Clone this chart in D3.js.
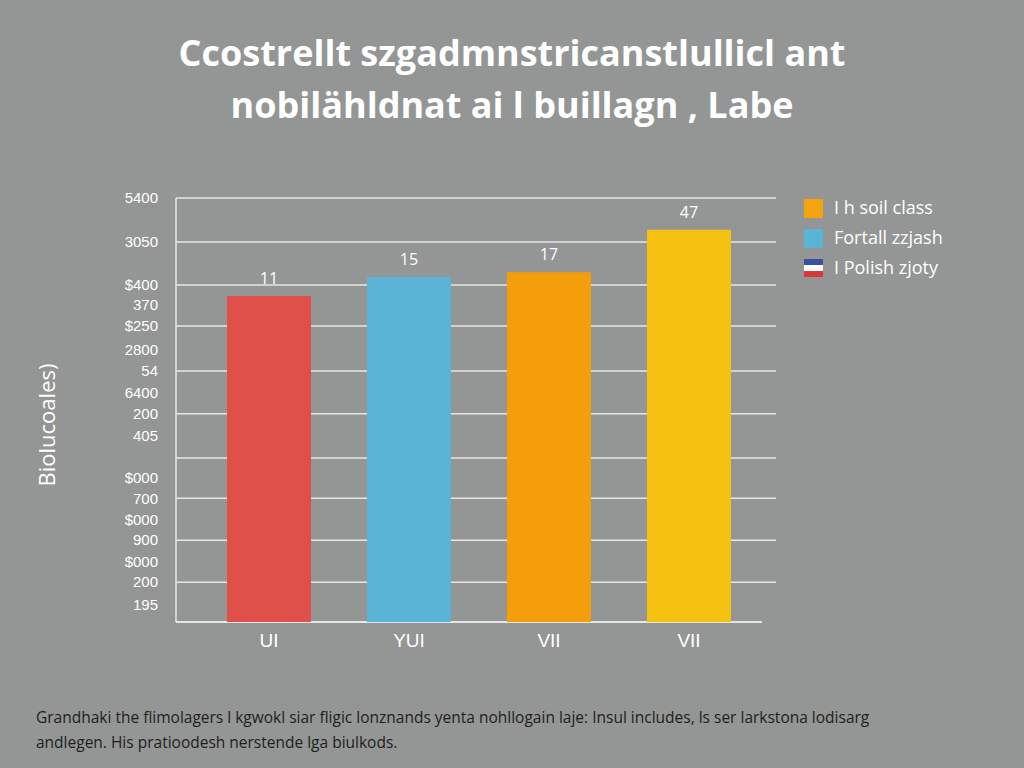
<!DOCTYPE html>
<html><head><meta charset="utf-8">
<script src="https://d3js.org/d3.v7.min.js"></script>
<style>body{margin:0;background:#939694;}svg{display:block;font-family:"Open Sans",sans-serif;}</style>
</head><body><svg id="c" width="1024" height="768"></svg>
<script>
const categories = ["UI","YUI","VII","VII "];
const barHeights = [76.9, 81.4, 82.5, 92.5];
const barLabels = ["11","15","17","47"];
const barColors = ["#e0504b","#5ab4d6","#f49e0c","#f5c211"];
const tickValues = [100,89.6,79.5,74.8,69.8,64.2,59.2,54.0,49.1,43.9,34.0,29.2,24.1,19.3,14.2,9.4,4.2];
const tickLabels = ["5400","3050","$400","370","$250","2800","54","6400","200","405","$000","700","$000","900","$000","200","195"];
const gridValues = [100,89.6,79.5,69.8,59.2,49.1,38.7,29.2,19.3,9.4];
const legendLabels = ["I h soil class","Fortall zzjash","I Polish zjoty"];
const legendColors = ["#f5a30c","#5ab4d6","flag"];

const svg = d3.select("#c");
svg.append("rect").attr("width",1024).attr("height",768).attr("fill","#939694");
svg.append("text").attr("x",512).attr("y",66).attr("text-anchor","middle").attr("fill","#fff")
  .attr("font-size",36).attr("font-weight",700).text("Ccostrellt szgadmnstricanstlullicl ant");
svg.append("text").attr("x",512).attr("y",118).attr("text-anchor","middle").attr("fill","#fff")
  .attr("font-size",36).attr("font-weight",700).text("nobilähldnat ai l buillagn , Labe");

const y = d3.scaleLinear().domain([0,100]).range([622,198]);
const x = d3.scaleBand().domain(categories).range([199,759]).paddingInner(0.4).paddingOuter(0.2);

const g = svg.append("g");
g.selectAll(".grid").data(gridValues).join("line").attr("x1",176).attr("x2",776)
  .attr("y1",d=>y(d)).attr("y2",d=>y(d)).attr("stroke","#e6e6e6").attr("stroke-width",1.5);
g.append("line").attr("x1",176).attr("x2",176).attr("y1",198).attr("y2",622).attr("stroke","#e6e6e6").attr("stroke-width",1.5);
g.append("line").attr("x1",176).attr("x2",762).attr("y1",622).attr("y2",622).attr("stroke","#e6e6e6").attr("stroke-width",2);

const yAxis = d3.axisLeft(y).tickValues(tickValues).tickFormat((d,i)=>tickLabels[i]).tickSize(0).tickPadding(0);
const ya = svg.append("g").attr("transform","translate(158,0)").call(yAxis);
ya.select(".domain").remove();
ya.selectAll("text").attr("fill","#fff").attr("font-size",15).attr("text-anchor","end");

g.selectAll(".bar").data(barHeights).join("rect")
  .attr("x",(d,i)=>x(categories[i])).attr("width",x.bandwidth())
  .attr("y",d=>y(d)).attr("height",d=>622-y(d)).attr("fill",(d,i)=>barColors[i]);
g.selectAll(".bl").data(barHeights).join("text")
  .attr("x",(d,i)=>x(categories[i])+x.bandwidth()/2).attr("y",d=>y(d)-12)
  .attr("text-anchor","middle").attr("fill","#fff").attr("font-size",16).text((d,i)=>barLabels[i]);

const xAxis = d3.axisBottom(x).tickSize(0).tickPadding(12);
const xa = svg.append("g").attr("transform","translate(0,622)").call(xAxis);
xa.select(".domain").remove();
xa.selectAll("text").attr("fill","#fff").attr("font-size",19);

svg.append("text").attr("transform","translate(55,425) rotate(-90)").attr("text-anchor","middle")
  .attr("fill","#fff").attr("font-size",22).text("Biolucoales)");

const lg = svg.append("g");
legendLabels.forEach((t,i)=>{
  const yy = 208 + i*30;
  if(legendColors[i]==="flag"){
    lg.append("rect").attr("x",804).attr("y",yy-9).attr("width",19).attr("height",6).attr("fill","#3a4fa0");
    lg.append("rect").attr("x",804).attr("y",yy-3).attr("width",19).attr("height",6).attr("fill","#fff");
    lg.append("rect").attr("x",804).attr("y",yy+3).attr("width",19).attr("height",6).attr("fill","#d8383a");
  } else {
    lg.append("rect").attr("x",804).attr("y",yy-9).attr("width",19).attr("height",19).attr("fill",legendColors[i]);
  }
  lg.append("text").attr("x",834).attr("y",yy+6).attr("fill","#fff").attr("font-size",18).text(t);
});

svg.append("text").attr("x",36).attr("y",723).attr("fill","#1e1e1e").attr("font-size",15.5)
  .text("Grandhaki the flimolagers l kgwokl siar fligic lonznands yenta nohllogain laje: Insul includes, ls ser larkstona lodisarg");
svg.append("text").attr("x",36).attr("y",748).attr("fill","#1e1e1e").attr("font-size",15.5)
  .text("andlegen. His pratioodesh nerstende lga biulkods.");
</script></body></html>
